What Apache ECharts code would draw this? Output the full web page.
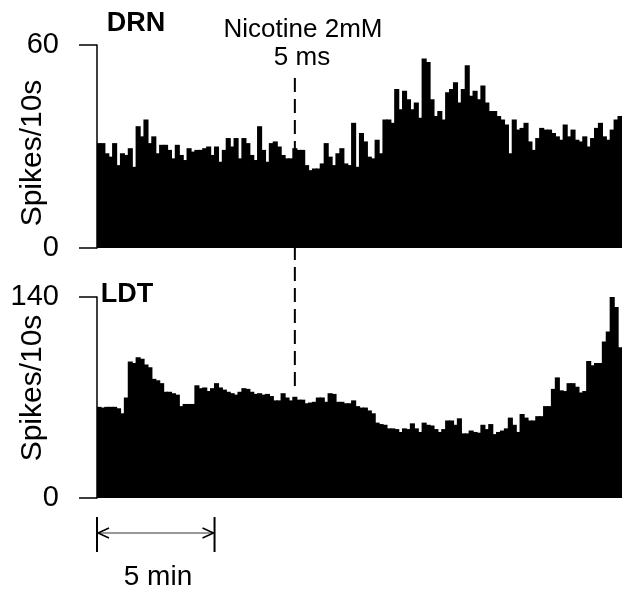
<!DOCTYPE html>
<html><head><meta charset="utf-8">
<script src="https://cdn.jsdelivr.net/npm/echarts/dist/echarts.min.js"></script>
<style>html,body{margin:0;padding:0;background:#fff}#c{width:625px;height:598px}</style>
</head><body><div id="c"></div>
<script>
// DRN spikes per 10 s bin
const drnValues = [31,31,28,27,31,24.5,28,27.5,29.5,24,36,33,38,31,33,28,30.5,30.5,29,26.5,
30.5,27.5,26,29.5,28.5,29,29,29.5,30,27.5,30,25.5,29,32.5,30,32.5,26.5,32.5,31,27.5,
26,36,29,25.5,31,31.5,30,27.5,26.5,26.5,29.5,29,29,24.5,23,23.5,23.5,25,31,27,
24.5,28,29.5,25,24.5,37,24,34,31.5,27,26.5,32,28,38,38,37,47,41,46.5,44,
41,43,38.5,56,55,44,39,40.5,38,46,47,49,43,47,54,45,46.5,44,48,43,
40.5,40.5,39,38,36.5,28,38,35,35.5,37,31.5,29,32.5,35.5,35,35,34,33,32,36.5,
33,35,32,31.5,33,30,32.5,35.5,37,33,32,35,38,39];
// LDT spikes per 10 s bin
const ldtValues = [63.5,63,63.5,63.5,63.5,62.5,59,70,95,94,98,97,93,91,83,82,80,74,74,73,
72,64,65.5,65.5,65.5,78.5,76.5,77,74.5,76.5,80,77,75.5,74,73,72,74,76.5,76,74,
72.5,73,72,72.5,71,68,68,73,70,68,70.5,68.5,68.5,66,66.5,67,70,70,67,73,
72.5,67,67,66,66,68,64,63,63,61,59,52.5,51.5,51,48.5,48.5,48,46,48.5,48,
52,48.5,46,52.5,51,50.5,48,46,48,54,54,51,55.5,45,45,47,46,45.5,51,48,
51.5,44.5,46,47,48.5,56,51,46,58.5,56,54,54,57,57,64,64,76,84,75,74.5,
80,80,77.5,73.5,74.5,95.5,92.5,94,94,109,116,140,133,105];
const bins = drnValues.map((_, i) => i);
const drnTicks = {min: 0, max: 60};
const ldtTicks = {min: 0, max: 140};
const stimulusBin = 50;      // nicotine application
const scaleBins = 30;        // 5 min = 30 bins of 10 s
const FONT = 'Liberation Sans, Arial, Helvetica, sans-serif';

const chart = echarts.init(document.getElementById('c'), null, {renderer: 'canvas'});
function yAxis(idx, t) {
  return {
    type: 'value', gridIndex: idx, min: t.min, max: t.max, interval: t.max - t.min,
    axisLine: {show: true, lineStyle: {color: '#000', width: 1.5}},
    axisTick: {show: true, length: 18, lineStyle: {color: '#000', width: 1.5}},
    axisLabel: {margin: 38, fontSize: 29, color: '#000', fontFamily: FONT},
    splitLine: {show: false}
  };
}
function xAxis(idx) {
  return {type: 'category', gridIndex: idx, data: bins, boundaryGap: true,
    axisLine: {show: false}, axisTick: {show: false}, axisLabel: {show: false}};
}
function barSeries(idx, data) {
  return {type: 'bar', xAxisIndex: idx, yAxisIndex: idx, data: data,
    barWidth: '130%', silent: true,
    itemStyle: {color: '#000'}};
}
chart.setOption({
  animation: false,
  backgroundColor: '#fff',
  grid: [{left: 97, right: 3, top: 45, height: 203}, {left: 97, right: 3, top: 297, height: 201}],
  xAxis: [xAxis(0), xAxis(1)],
  yAxis: [yAxis(0, drnTicks), yAxis(1, ldtTicks)],
  series: [barSeries(0, drnValues), barSeries(1, ldtValues)]
});

const c0 = chart.convertToPixel({xAxisIndex: 0}, 0);
const c1 = chart.convertToPixel({xAxisIndex: 0}, 1);
const bw = c1 - c0;
const stimX = chart.convertToPixel({xAxisIndex: 0}, stimulusBin);
const sbL = c0 - bw / 2;
const sbR = chart.convertToPixel({xAxisIndex: 1}, scaleBins) - bw / 2;
const sbY = 533;

function txt(text, x, y, size, bold, rot) {
  return {type: 'text', x: x, y: y, rotation: rot || 0, z: 10,
    style: {text: text, textAlign: 'center', textVerticalAlign: 'middle',
      fontSize: size, fontWeight: bold ? 'bold' : 'normal', fontFamily: FONT, fill: '#000'}};
}
chart.setOption({
  graphic: [
    txt('DRN', 136, 24, 27, true),
    txt('Nicotine 2mM', 303, 30, 26, false),
    txt('5 ms', 302, 58, 26, false),
    txt('LDT', 127, 295, 27, true),
    txt('Spikes/10s', 33, 153, 30, false, Math.PI / 2),
    txt('Spikes/10s', 33, 388, 30, false, Math.PI / 2),
    txt('5 min', 158, 577, 28, false),
    {type: 'line', z: 10, shape: {x1: stimX, y1: 78, x2: stimX, y2: 393},
      style: {stroke: '#000', lineWidth: 2, lineDash: [14, 7]}},
    {type: 'line', z: 10, shape: {x1: sbL, y1: 517, x2: sbL, y2: 552}, style: {stroke: '#000', lineWidth: 2}},
    {type: 'line', z: 10, shape: {x1: sbR, y1: 517, x2: sbR, y2: 552}, style: {stroke: '#000', lineWidth: 2}},
    {type: 'line', z: 10, shape: {x1: sbL, y1: sbY, x2: sbR, y2: sbY}, style: {stroke: '#333', lineWidth: 1}},
    {type: 'polyline', z: 10, shape: {points: [[sbL + 12, sbY - 5], [sbL + 1, sbY], [sbL + 12, sbY + 5]]},
      style: {stroke: '#000', lineWidth: 1.5, fill: null}},
    {type: 'polyline', z: 10, shape: {points: [[sbR - 12, sbY - 5], [sbR - 1, sbY], [sbR - 12, sbY + 5]]},
      style: {stroke: '#000', lineWidth: 1.5, fill: null}}
  ]
});
</script></body></html>
